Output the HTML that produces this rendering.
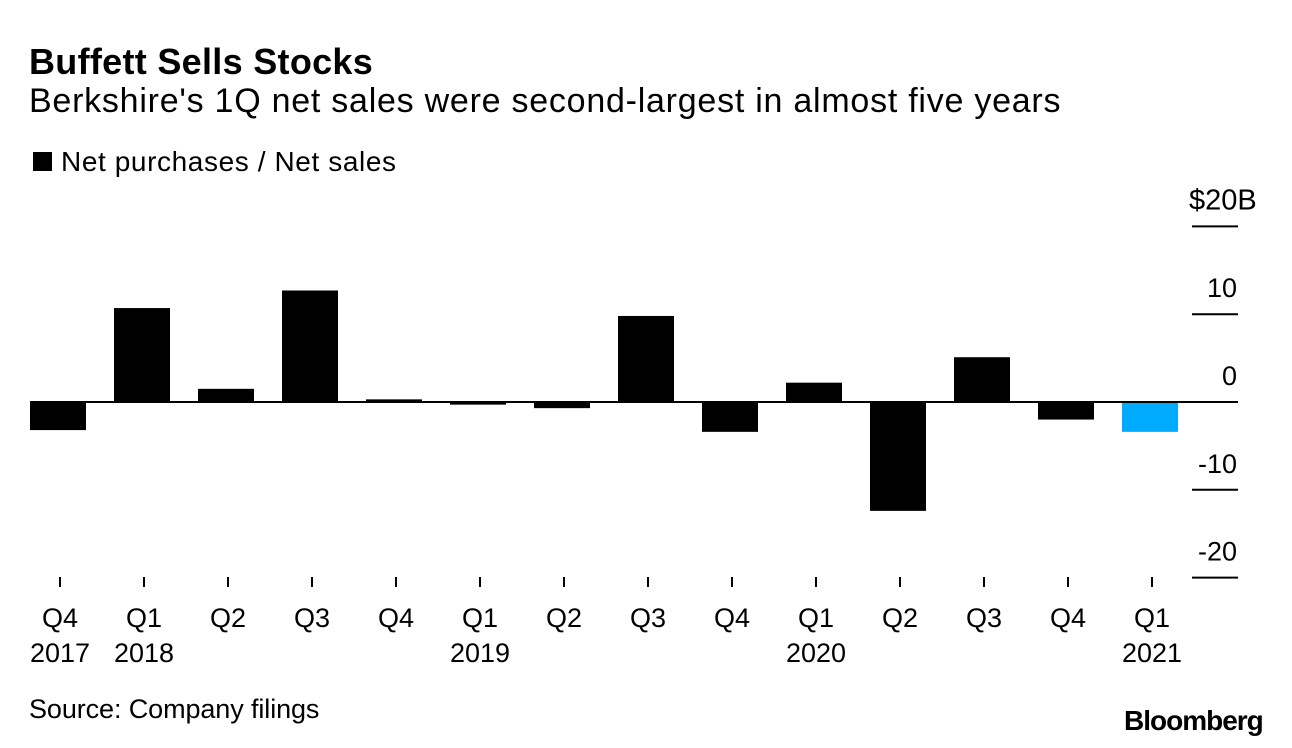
<!DOCTYPE html>
<html><head><meta charset="utf-8"><style>
body{margin:0;background:#fff;font-family:"Liberation Sans",Arial,sans-serif;}
#wrap{position:relative;width:1292px;height:748px;overflow:hidden;}
.t{position:absolute;white-space:nowrap;color:#000;}
</style></head><body>
<div id="wrap">
<div class="t" style="left:29px;top:41px;font-size:36px;font-weight:bold;letter-spacing:0.3px">Buffett Sells Stocks</div>
<div class="t" style="left:29px;top:82px;font-size:34px;letter-spacing:0.75px">Berkshire's 1Q net sales were second-largest in almost five years</div>
<div class="t" style="left:33px;top:146px;font-size:28px;letter-spacing:0.6px"><span style="display:inline-block;width:19px;height:19px;background:#000;vertical-align:0px;margin-right:9px"></span>Net purchases / Net sales</div>
<svg id="plot" width="1292" height="748" style="position:absolute;left:0;top:0"></svg>
<div class="t" style="left:29px;top:694px;font-size:27px;letter-spacing:-0.1px">Source: Company filings</div>
<div class="t" style="left:1124px;top:705px;font-size:28px;font-weight:bold;letter-spacing:-1px">Bloomberg</div>
</div>
<script>
const categories=["Q4","Q1","Q2","Q3","Q4","Q1","Q2","Q3","Q4","Q1","Q2","Q3","Q4","Q1"];
const years=["2017","2018","","","","2019","","","","2020","","","","2021"];
const values=[-3.2,10.7,1.5,12.7,0.3,-0.3,-0.7,9.8,-3.4,2.2,-12.4,5.1,-2.0,-3.4];
const highlight=[false,false,false,false,false,false,false,false,false,false,false,false,false,true];
const yTicks=[20,10,0,-10,-20];
const yTickLabels=["$20B","10","0","-10","-20"];
const NS="http://www.w3.org/2000/svg";
const svg=document.getElementById('plot');
function y(v){return 402-v*8.78;}
function xc(i){return 58+i*84;}
function mk(tag,attrs){const e=document.createElementNS(NS,tag);for(const k in attrs)e.setAttribute(k,attrs[k]);svg.appendChild(e);return e;}
yTicks.forEach((t,i)=>{
  const l=mk('line',{x1:1192,x2:1238,y1:y(t),y2:y(t),stroke:'#000','stroke-width':2});
  
  
  const first=i===0;
  const tx=mk('text',{x:first?1189:1237,y:y(t)-17,'text-anchor':first?'start':'end','font-size':first?29:27,'font-family':'Liberation Sans, Arial, sans-serif'});
  tx.textContent=yTickLabels[i];
  
  
});
values.forEach((v,i)=>{
  const top=Math.min(y(v),y(0)),h=Math.abs(y(v)-y(0));
  const r=mk('rect',{x:xc(i)-28,y:top,width:56,height:h,fill:highlight[i]?'#00aaff':'#000'});
  
  
  const tk=mk('line',{x1:xc(i)+2,x2:xc(i)+2,y1:577,y2:587,stroke:'#000','stroke-width':2});
  
  
  const t1=mk('text',{x:xc(i)+2,y:627,'text-anchor':'middle','font-size':27,'font-family':'Liberation Sans, Arial, sans-serif'});
  t1.textContent=categories[i];
  
  
  if(years[i]){
    const t2=mk('text',{x:xc(i)+2,y:662,'text-anchor':'middle','font-size':27,'font-family':'Liberation Sans, Arial, sans-serif'});
    t2.textContent=years[i];
    
    
  }
});
const z=mk('line',{x1:30,x2:1238,y1:y(0),y2:y(0),stroke:'#000','stroke-width':2});


</script>
</body></html>
